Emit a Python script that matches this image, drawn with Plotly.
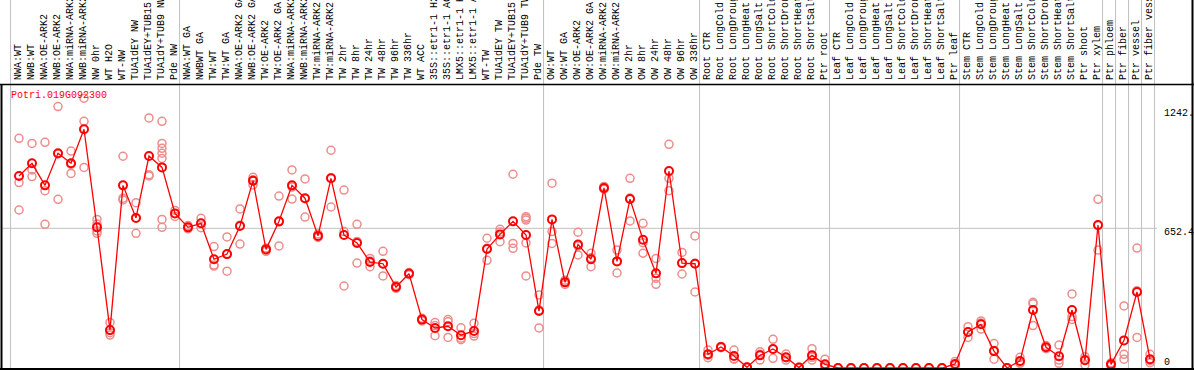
import plotly.graph_objects as go

gene = "Potri.019G092300"

categories = [
    "NWA:WT", "NWB:WT", "NWA:OE-ARK2", "NWB:OE-ARK2", "NWA:miRNA-ARK2", "NWB:miRNA-ARK2",
    "NW 0hr", "WT H2O", "WT-NW", "TUA1dEY NW", "TUA1dEY+TUB15 NW", "TUA1dY+TUB9 NW", "Pde NW",
    "NWA:WT GA", "NWBWT GA", "TW:WT", "TW:WT GA", "NWA:OE-ARK2 GA", "NWB:OE-ARK2 GA",
    "TW:OE-ARK2", "TW:OE-ARK2 GA", "NWA:miRNA-ARK2", "NWB:miRNA-ARK2", "TW:miRNA-ARK2",
    "TW:miRNA-ARK2", "TW 2hr", "TW 8hr", "TW 24hr", "TW 48hr", "TW 96hr", "TW 336hr",
    "WT ACC", "35S::etr1-1 H2O", "35S::etr1-1 ACC", "LMX5::etr1-1 H2O", "LMX5::etr1-1 ACC",
    "WT-TW", "TUA1dEY TW", "TUA1dEY+TUB15 TW", "TUA1dY+TUB9 TW", "Pde TW",
    "OW:WT", "OW:WT GA", "OW:OE-ARK2", "OW:OE-ARK2 GA", "OW:miRNA-ARK2", "OW:miRNA-ARK2",
    "OW 2hr", "OW 8hr", "OW 24hr", "OW 48hr", "OW 96hr", "OW 336hr",
    "Root CTR", "Root LongCold", "Root LongDrought", "Root LongHeat", "Root LongSalt",
    "Root ShortCold", "Root ShortDrought", "Root ShortHeat", "Root ShortSalt", "Ptr root",
    "Leaf CTR", "Leaf LongCold", "Leaf LongDrought", "Leaf LongHeat", "Leaf LongSalt",
    "Leaf ShortCold", "Leaf ShortDrought", "Leaf ShortHeat", "Leaf ShortSalt", "Ptr leaf",
    "Stem CTR", "Stem LongCold", "Stem LongDrought", "Stem LongHeat", "Stem LongSalt",
    "Stem ShortCold", "Stem ShortDrought", "Stem ShortHeat", "Stem ShortSalt",
    "Ptr shoot", "Ptr xylem", "Ptr phloem", "Ptr fiber", "Ptr vessel", "Ptr fiber vessel",
]

means = [
    897, 956, 853, 1003, 956, 1115, 657, 177, 853, 701, 990, 937, 722,
    657, 676, 508, 532, 663, 875, 554, 685, 853, 793, 617, 886, 621, 584, 495, 487,
    378, 441, 226, 187, 195, 153, 173, 556, 624, 685, 621, 266,
    694, 400, 577, 508, 841, 498, 789, 599, 442, 920, 490, 487,
    64, 98, 56, 3, 59, 89, 50, 2, 59, 17,
    0, 0, 0, 0, 0, 0, 0, 0, 0, 19,
    168, 204, 79, 0, 33, 271, 97, 55, 271, 36, 668, 17, 129, 355, 41,
]

replicates = [
    [1073, 866, 738], [1049, 925, 894], [1054, 828, 671], [1221, 1000, 788],
    [1013, 951, 909], [1260, 1152, 937], [694, 672, 640, 629], [213, 165, 154],
    [989, 793, 785], [772, 702, 629], [1168, 903, 897],
    [1152, 1049, 1026, 1003, 979, 694, 657], [736, 722, 708],
    [665, 657, 650], [699, 676, 655], [567, 481, 476], [612, 532, 452],
    [743, 667, 579], [891, 879, 855], [560, 554, 545], [803, 682, 570],
    [925, 845, 789], [883, 791, 705], [626, 615, 610], [1017, 889, 752],
    [831, 637, 383], [671, 591, 490], [512, 500, 473], [545, 486, 430],
    [385, 378, 372], [446, 441, 436], [232, 226, 220], [212, 198, 151],
    [226, 216, 143], [188, 139, 132], [209, 161, 149], [606, 559, 503],
    [648, 635, 590], [905, 582, 559], [707, 699, 691, 584, 430], [341, 271, 187],
    [863, 637, 582], [410, 400, 390], [634, 570, 528], [536, 515, 473],
    [848, 841, 835], [551, 499, 444], [886, 794, 687], [676, 585, 536],
    [512, 419, 391], [1045, 886, 828], [540, 491, 439], [617, 489, 355],
    [84, 60, 48], [101, 98, 95], [84, 43, 41], [5, 3, 1], [76, 64, 37],
    [134, 88, 45], [65, 48, 37], [3, 2, 1], [90, 50, 37], [41, 8, 3],
    [0, 0, 0], [0, 0, 0], [0, 0, 0], [0, 0, 0], [0, 0, 0], [0, 0, 0],
    [0, 0, 0], [0, 0, 0], [0, 0, 0], [30, 15, 12],
    [193, 168, 143], [220, 210, 182], [114, 82, 41], [1, 0, 0], [50, 27, 22],
    [307, 300, 198], [105, 97, 90], [107, 37, 22], [346, 240, 227],
    [53, 41, 14], [788, 665, 551], [24, 17, 10], [290, 64, 41],
    [560, 361, 143], [64, 34, 25],
]

group_starts = [0, 13, 41, 53, 63, 73, 84, 85, 86, 87, 88]
ytick_vals = [1242, 652.4, 0]
ytick_text = ["1242.", "652.4", "0"]

W, H = 1194, 370
FONT = "Liberation Mono"

xs = list(range(len(categories)))
rep_x, rep_y = [], []
for i, reps in enumerate(replicates):
    for v in reps:
        rep_x.append(i)
        rep_y.append(v)

fig = go.Figure()
fig.add_trace(go.Scatter(
    x=rep_x, y=rep_y, mode="markers",
    marker=dict(symbol="circle-open", size=8, color="#EE8C8C", line=dict(width=1.5)),
    hoverinfo="skip", showlegend=False,
))
fig.add_trace(go.Scatter(
    x=xs, y=means, mode="lines+markers",
    line=dict(color="#FF0000", width=1.3),
    marker=dict(symbol="circle-open", size=8, color="#FF0000", line=dict(width=2)),
    showlegend=False,
))

# axis mapping: category i at pixel 19 + 13*i ; value v at pixel row 368 - 0.2141*v
x_lo = (0 - 19) / 13
x_hi = (W - 19) / 13
scale = 0.2141
y_lo = (368 - H) / scale
y_hi = 368 / scale

shapes = []
for g in group_starts:
    shapes.append(dict(type="line", xref="x", yref="paper", x0=g - 0.65, x1=g - 0.65,
                       y0=1 / H, y1=1, line=dict(color="#C0C0C0", width=1), layer="below"))
shapes.append(dict(type="line", xref="paper", yref="y", x0=1 / W, x1=1157 / W,
                   y0=ytick_vals[1], y1=ytick_vals[1],
                   line=dict(color="#C0C0C0", width=1), layer="below"))
# frame
shapes.append(dict(type="line", xref="paper", yref="paper", x0=0, x1=1,
                   y0=1 - 84.5 / H, y1=1 - 84.5 / H, line=dict(color="black", width=1.5)))
shapes.append(dict(type="line", xref="paper", yref="paper", x0=0, x1=1,
                   y0=1 - 369 / H, y1=1 - 369 / H, line=dict(color="black", width=2)))
shapes.append(dict(type="line", xref="paper", yref="paper", x0=1.5 / W, x1=1.5 / W,
                   y0=1 - 369 / H, y1=1 - 84.5 / H, line=dict(color="black", width=2)))
shapes.append(dict(type="line", xref="paper", yref="paper", x0=1 - 1.5 / W, x1=1 - 1.5 / W,
                   y0=1 - 369 / H, y1=1, line=dict(color="black", width=2)))

annotations = []
for i, c in enumerate(categories):
    annotations.append(dict(
        x=i, xref="x", y=1 - 82 / H, yref="paper", text=c, showarrow=False,
        textangle=-90, xanchor="center", yanchor="bottom",
        font=dict(family=FONT, size=10, color="black"),
    ))
annotations.append(dict(
    x=9 / W, xref="paper", y=1 - 88 / H, yref="paper", text=gene, showarrow=False,
    xanchor="left", yanchor="top", font=dict(family=FONT, size=10, color="#FF0000"),
))
label_rows = [113, 232, 362]
for t, row in zip(ytick_text, label_rows):
    annotations.append(dict(
        x=1162 / W, xref="paper", y=1 - row / H, yref="paper", text=t, showarrow=False,
        xanchor="left", yanchor="middle", font=dict(family=FONT, size=10, color="black"),
    ))

fig.update_layout(
    width=W, height=H, margin=dict(l=0, r=0, t=0, b=0),
    paper_bgcolor="white", plot_bgcolor="white",
    xaxis=dict(visible=False, range=[x_lo, x_hi], fixedrange=True),
    yaxis=dict(visible=False, range=[y_lo, y_hi], fixedrange=True),
    shapes=shapes, annotations=annotations, showlegend=False,
)

fig.write_html(
    "out.html",
    config={"displayModeBar": False},
    post_script="document.body.style.margin='0';document.body.style.padding='0';document.body.style.overflow='hidden';",
)
